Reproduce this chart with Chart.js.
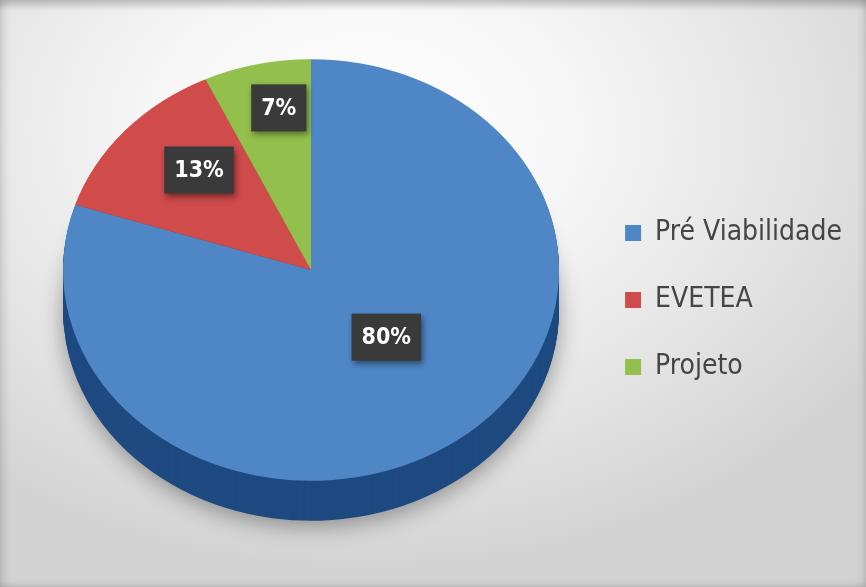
<!DOCTYPE html>
<html>
<head>
<meta charset="utf-8">
<script src="https://cdn.jsdelivr.net/npm/chart.js@4.4.1/dist/chart.umd.min.js"></script>
<style>
  html,body{margin:0;padding:0;}
  body{width:866px;height:587px;overflow:hidden;background:#d2d2d2;}
  #wrap{position:absolute;left:0;top:0;width:866px;height:587px;
    background:radial-gradient(ellipse 70% 75% at 42% 22%, #ffffff 0%, #f6f6f6 35%, #e4e4e4 70%, #d3d3d3 100%);
    box-shadow: inset 0 10px 6px -4px rgba(0,0,0,0.18), inset 8px 0 8px -4px rgba(0,0,0,0.12), inset -6px 0 8px -4px rgba(0,0,0,0.12), inset 0 -6px 8px -4px rgba(0,0,0,0.1);}
  canvas{position:absolute;left:0;top:0;}
</style>
</head>
<body>
<div id="wrap"><canvas id="c" width="866" height="587"></canvas></div>
<script>
const categories = ['Pré Viabilidade', 'EVETEA', 'Projeto'];
const values = [80, 13, 7];
const pctLabels = ['80%', '13%', '7%'];
const sliceColors = ['#4f86c6', '#d04c4b', '#93bf4c'];
const sideColors = ['#1e4a80', '#8a2c2a', '#5c7f2e'];

const pie3d = {
  id: 'pie3d',
  beforeDatasetsDraw(chart, args, opts) {
    const meta = chart.getDatasetMeta(0);
    const ctx = chart.ctx;
    const a0 = meta.data[0];
    const cx = a0.x, cy = a0.y;
    const tf = (dy) => {
      ctx.translate(cx, opts.centerY + dy);
      ctx.scale(1, opts.tilt);
      ctx.translate(-cx, -cy);
    };
    for (let d = opts.depth; d >= 1; d--) {
      ctx.save();
      tf(d);
      if (d === opts.depth) {
        ctx.shadowColor = 'rgba(0,0,0,0.35)';
        ctx.shadowBlur = 22;
        ctx.shadowOffsetY = 6;
      }
      meta.data.forEach((arc, i) => {
        const proxy = Object.create(arc);
        proxy.options = Object.assign({}, arc.options, {backgroundColor: sideColors[i], borderWidth: 0});
        Chart.ArcElement.prototype.draw.call(proxy, ctx);
      });
      ctx.restore();
    }
    ctx.save();
    tf(0);
  },
  afterDatasetsDraw(chart, args, opts) {
    const ctx = chart.ctx;
    ctx.restore();
    const meta = chart.getDatasetMeta(0);
    meta.data.forEach((arc, i) => {
      const mid = (arc.startAngle + arc.endAngle) / 2 + opts.labelAngle[i] * Math.PI / 180;
      const r = arc.outerRadius * opts.labelRadius[i];
      const x = arc.x + Math.cos(mid) * r;
      const y = opts.centerY + Math.sin(mid) * r * opts.tilt;
      ctx.save();
      ctx.font = opts.font;
      const tw = ctx.measureText(pctLabels[i]).width;
      const w = tw + 20, h = 47;
      ctx.shadowColor = 'rgba(0,0,0,0.45)';
      ctx.shadowBlur = 6;
      ctx.shadowOffsetX = 2;
      ctx.shadowOffsetY = 3;
      ctx.fillStyle = '#3a3a3a';
      ctx.fillRect(x - w / 2, y - h / 2, w, h);
      ctx.shadowColor = 'transparent';
      ctx.fillStyle = '#ffffff';
      ctx.textAlign = 'center';
      ctx.textBaseline = 'middle';
      ctx.fillText(pctLabels[i], x, y + 1);
      ctx.restore();
    });
  }
};

new Chart(document.getElementById('c'), {
  type: 'pie',
  data: {
    labels: categories,
    datasets: [{
      data: values,
      backgroundColor: sliceColors,
      borderWidth: 0
    }]
  },
  options: {
    responsive: false,
    animation: false,
    devicePixelRatio: 1,
    layout: { padding: { left: 36, right: 14, top: 52, bottom: 39 } },
    plugins: {
      tooltip: { enabled: false },
      legend: {
        position: 'right',
        labels: {
          boxWidth: 16,
          boxHeight: 16,
          padding: 39,
          color: '#454545',
          font: { family: "'DejaVu Sans Condensed', sans-serif", size: 28 }
        }
      },
      pie3d: {
        centerY: 270,
        tilt: 0.85,
        depth: 40,
        labelRadius: [0.44, 0.655, 0.78],
        labelAngle: [-7.6, 5, 3],
        font: "bold 23px 'DejaVu Sans Condensed', sans-serif"
      }
    }
  },
  plugins: [pie3d]
});
</script>
</body>
</html>
